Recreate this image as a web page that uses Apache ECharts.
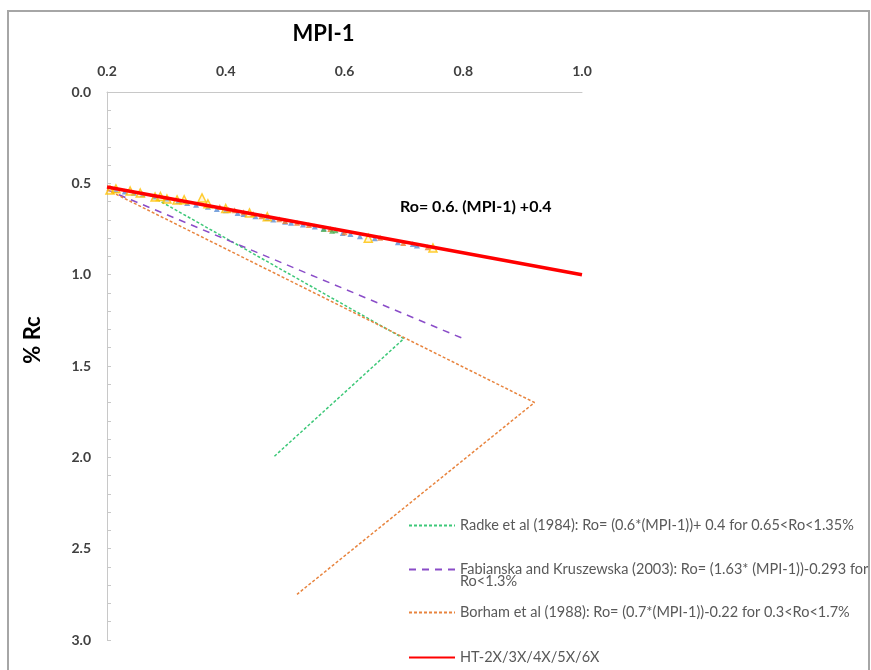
<!DOCTYPE html>
<html>
<head>
<meta charset="utf-8">
<script src="https://cdn.jsdelivr.net/npm/echarts@6/dist/echarts.min.js"></script>
<style>
html,body{margin:0;padding:0;background:#fff;}
#chart{width:871px;height:670px;}
</style>
</head>
<body>
<div id="chart"></div>
<script>
// ---- data ----
var xTicks = [0.2, 0.4, 0.6, 0.8, 1.0];
var yTicks = [0.0, 0.5, 1.0, 1.5, 2.0, 2.5, 3.0];

var radke = [[0.27, 0.562], [0.70, 1.35], [0.48, 2.0]];
var fabianska = [[0.20, 0.535], [0.80, 1.35]];
var borham = [[0.20, 0.535], [0.92, 1.70], [0.52, 2.75]];
var htLine = [[0.20, 0.52], [1.00, 1.00]];

var yellowPts = [[0.197,0.525],[0.205,0.536],[0.215,0.530],[0.239,0.542],[0.256,0.553],[0.281,0.575],[0.290,0.572],[0.301,0.586],[0.318,0.591],[0.33,0.590],[0.36,0.580],[0.37,0.612],[0.40,0.638],[0.44,0.662],[0.47,0.683],[0.64,0.800],[0.749,0.854]];
var bluePts = [[0.215,0.535],[0.23,0.545],[0.245,0.552],[0.26,0.560],[0.28,0.572],[0.30,0.583],[0.32,0.597],[0.335,0.607],[0.35,0.617],[0.37,0.628],[0.385,0.640],[0.40,0.648],[0.42,0.663],[0.43,0.668],[0.45,0.680],[0.47,0.690],[0.48,0.698],[0.50,0.710],[0.51,0.716],[0.53,0.725],[0.55,0.736],[0.565,0.746],[0.597,0.772],[0.61,0.778],[0.626,0.790],[0.651,0.800],[0.69,0.822],[0.715,0.832],[0.722,0.840]];
var orangePts = [[0.39,0.630],[0.405,0.645],[0.415,0.648],[0.43,0.658],[0.446,0.668],[0.46,0.680],[0.49,0.696],[0.50,0.706],[0.52,0.716],[0.54,0.728],[0.576,0.750],[0.60,0.768],[0.66,0.798],[0.699,0.826],[0.74,0.850]];
var greenPts = [[0.565,0.750],[0.579,0.760],[0.585,0.757]];

var legRadke = 'Radke et al (1984): Ro= (0.6*(MPI-1))+ 0.4 for 0.65<Ro<1.35%';
var legFab = 'Fabianska and Kruszewska (2003): Ro= (1.63* (MPI-1))-0.293 for Ro<1.3%';
var legBorham = 'Borham et al (1988): Ro= (0.7*(MPI-1))-0.22 for 0.3<Ro<1.7%';
var legHT = 'HT-2X/3X/4X/5X/6X';

var FONT = 'Lato, "Open Sans", sans-serif';
var chart = echarts.init(document.getElementById('chart'), null, {renderer: 'canvas'});

function legendAt(name, top, extra) {
  var l = {
    data: [name], left: 408, top: top, orient: 'vertical', padding: 0,
    itemWidth: 46, itemHeight: 10, selectedMode: false,
    itemStyle: {opacity: 0},
    textStyle: {color: '#595959', fontSize: 14.5, fontFamily: FONT, lineHeight: 12}
  };
  if (extra) { for (var k in extra) l[k] = extra[k]; }
  return l;
}

var scatterBase = {type: 'scatter', symbol: 'triangle', z: 3};

chart.setOption({
  animation: false,
  backgroundColor: '#fff',
  grid: {left: 107, top: 92, width: 475, height: 548},
  xAxis: {
    type: 'value', position: 'top', min: 0.2, max: 1.0, interval: 0.2,
    name: 'MPI-1', nameLocation: 'middle', nameGap: 47,
    nameTextStyle: {fontSize: 22, fontWeight: 'bold', color: '#000', fontFamily: FONT, padding: [0, 42, 0, 0]},
    axisLine: {show: true, lineStyle: {color: '#C8C8C8', width: 1}},
    axisTick: {show: false},
    splitLine: {show: false},
    axisLabel: {margin: 14, fontSize: 14, fontWeight: 'bold', color: '#404040', fontFamily: FONT,
      formatter: function (v) { return v.toFixed(1); }}
  },
  yAxis: {
    type: 'value', inverse: true, min: 0, max: 3.0, interval: 0.5,
    name: '% Rc', nameLocation: 'middle', nameGap: 63, nameRotate: 90,
    nameTextStyle: {fontSize: 22, fontWeight: 'bold', color: '#000', fontFamily: FONT, padding: [0, 0, 0, 52]},
    axisLine: {show: true, lineStyle: {color: '#C8C8C8', width: 1}},
    axisTick: {show: true, inside: true, length: 4, lineStyle: {color: '#C8C8C8'}},
    minorTick: {show: true, splitNumber: 5, length: 4, lineStyle: {color: '#C8C8C8'}},
    splitLine: {show: false},
    axisLabel: {margin: 16, fontSize: 14, fontWeight: 'bold', color: '#404040', fontFamily: FONT,
      formatter: function (v) { return v.toFixed(1); }}
  },
  legend: [
    legendAt(legRadke, 518),
    legendAt(legFab, 550, {formatter: function () {
      return ' \nFabianska and Kruszewska (2003): Ro= (1.63* (MPI-1))-0.293 for\nRo<1.3%'; }}),
    legendAt(legBorham, 605),
    legendAt(legHT, 650)
  ],
  graphic: [
    {type: 'rect', shape: {x: 8, y: 11, width: 861, height: 700}, style: {fill: 'none', stroke: '#A6A6A6', lineWidth: 2}, silent: true, z: -10},
    {type: 'text', left: 400, top: 199, style: {text: 'Ro= 0.6. (MPI-1) +0.4', font: 'bold 16px ' + FONT, fill: '#000'}}
  ],
  series: [
    Object.assign({}, scatterBase, {name: 'HT-blue', data: bluePts, symbolSize: 6,
      itemStyle: {color: '#5B8FD6'}}),
    Object.assign({}, scatterBase, {name: 'HT-orange', data: orangePts, symbolSize: 6,
      itemStyle: {color: '#ED7D31'}}),
    Object.assign({}, scatterBase, {name: 'HT-green', data: greenPts, symbolSize: 6,
      itemStyle: {color: '#4CAF50'}}),
    Object.assign({}, scatterBase, {name: 'HT-yellow', data: yellowPts, symbolSize: 8,
      itemStyle: {color: 'rgba(255,220,120,0.35)', borderColor: '#FFC000', borderWidth: 1.5}}),
    {name: legRadke, type: 'line', data: radke, symbol: 'none', z: 2,
      lineStyle: {color: '#3DC878', width: 1.5, type: [3, 2]}, itemStyle: {color: '#3DC878'}},
    {name: legFab, type: 'line', data: fabianska, symbol: 'none', z: 2,
      lineStyle: {color: '#8A4CC8', width: 1.5, type: [7, 6]}, itemStyle: {color: '#8A4CC8'}},
    {name: legBorham, type: 'line', data: borham, symbol: 'none', z: 2,
      lineStyle: {color: '#E8843E', width: 1.5, type: [3, 2]}, itemStyle: {color: '#E8843E'}},
    {name: legHT, type: 'line', data: htLine, symbol: 'none', z: 4,
      lineStyle: {color: '#FF0000', width: 3.5}, itemStyle: {color: '#FF0000'}}
  ]
});
</script>
</body>
</html>
